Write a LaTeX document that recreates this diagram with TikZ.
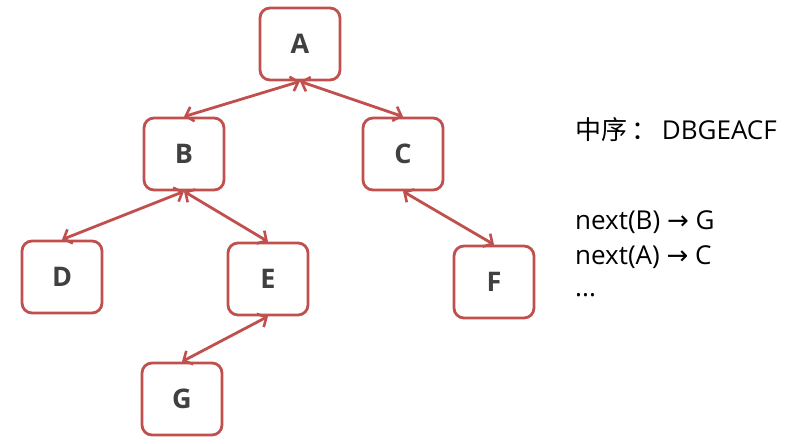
\documentclass[tikz,border=0pt]{standalone}
\usepackage{fontspec}
\setmainfont{Open Sans}
\newfontfamily\cjk{Noto Sans CJK SC}
\newfontfamily\symf{DejaVu Sans}
\usetikzlibrary{arrows.meta}
\definecolor{boxred}{HTML}{C0504D}
\definecolor{txt}{HTML}{404040}
\begin{document}
\begin{tikzpicture}[x=1pt,y=-1pt,
  tnode/.style={draw=boxred, line width=2.8pt, rounded corners=10pt, fill=white,
    minimum width=80pt, minimum height=72pt, inner sep=0pt,
    font=\fontsize{27}{30}\selectfont\bfseries, text=txt},
  link/.style={draw=boxred, line width=2.8pt,
    {Straight Barb[length=7pt,width=15pt,line width=2.6pt]}-{Straight Barb[length=7pt,width=15pt,line width=2.6pt]}},
  info/.style={anchor=west, inner sep=0pt, font=\fontsize{26}{30}\selectfont, text=black}]
\useasboundingbox (0,0) rectangle (796,444);
\node[tnode] (A) at (300,44) {A};
\node[tnode] (B) at (184,154) {B};
\node[tnode] (C) at (403,154) {C};
\node[tnode] (D) at (62,277) {D};
\node[tnode] (E) at (268,279) {E};
\node[tnode] (F) at (494,282) {F};
\node[tnode] (G) at (182,399) {G};
\draw[link] (A.south) -- (B.north);
\draw[link] (A.south) -- (C.north);
\draw[link] (B.south) -- (D.north);
\draw[link] (B.south) -- (E.north);
\draw[link] (C.south) -- (F.north);
\draw[link] (E.south) -- (G.north);
\node[info] (t1) at (575,130) {{\cjk 中序}\,{\cjk ：}\,DBGEACF};
\node[info] (t2) at (575,222) {next(B) {\symf →} G};
\node[info] (t3) at (575,257) {next(A) {\symf →} C};
\node[info] (t4) at (575,295) {...};
\end{tikzpicture}
\end{document}
